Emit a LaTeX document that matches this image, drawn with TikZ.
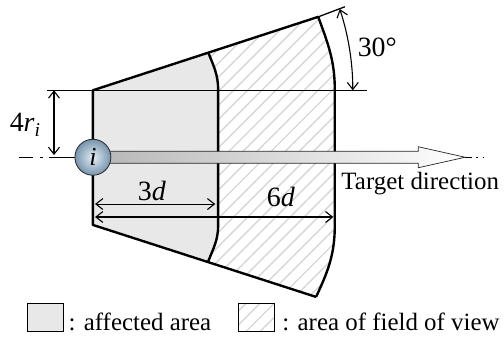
\documentclass[tikz,border=0pt]{standalone}
\usepackage{fontspec}
\setmainfont{Liberation Serif}
\usetikzlibrary{arrows.meta,patterns.meta}

\begin{document}
\begin{tikzpicture}[x=1in,y=1in,
  edge/.style={line width=2.4pt, line join=round},
  guide/.style={line width=1.3pt},
  dim/.style={line width=1.1pt, {Straight Barb[length=7pt,width=11pt]}-{Straight Barb[length=7pt,width=11pt]}},
  lbl/.style={font=\fontsize{28}{30}\selectfont, inner sep=0pt},
  txt/.style={font=\fontsize{25}{27}\selectfont, inner sep=0pt, anchor=base west},
  hatch/.style={pattern={Lines[angle=45,distance=10pt,line width=1.4pt]}, pattern color=black!16}]
\useasboundingbox (0,0) rectangle (7,4.694);
% corners of the two areas
\coordinate (tl) at (1.29,3.44);
\coordinate (bl) at (1.29,1.57);
\coordinate (it) at (2.89,3.97);
\coordinate (ib) at (2.89,1.06);
\coordinate (ot) at (4.42,4.46);
\coordinate (ob) at (4.39,0.57);
\coordinate (ext) at (4.79,4.60);
% areas
\fill[black!9] (tl) -- (it) to[out=-68,in=90] (3.03,3.44) -- (3.03,1.57) to[out=-90,in=68] (ib) -- (bl) -- cycle;
\fill[hatch] (it) -- (ot) to[out=-70,in=90] (4.65,3.44) -- (4.65,1.57) to[out=-90,in=65] (ob) -- (ib) to[out=68,in=-90] (3.03,1.57) -- (3.03,3.44) to[out=90,in=-68] (it);
\coordinate (hl) at (0.65,3.44);
\coordinate (hr) at (5.10,3.44);
\draw[guide] (hl) -- (hr);
\draw[guide] (ot) -- (ext);
\draw[edge] (ob) -- (bl) -- (tl) -- (ot);
\draw[edge] (it) to[out=-68,in=90] (3.03,3.44) -- (3.03,1.57) to[out=-90,in=68] (ib);
\draw[edge] (ot) to[out=-70,in=90] (4.65,3.44) -- (4.65,1.57) to[out=-90,in=65] (ob);
% target direction
\coordinate (c) at (1.29,2.51);
\coordinate (lft) at (0.26,2.51);
\coordinate (tip) at (6.46,2.51);
\coordinate (rgt) at (6.82,2.51);
\draw[line width=1.2pt, dash pattern=on 14pt off 7pt on 3pt off 6pt on 60pt] (lft) -- (c);
\shade[left color=black!28, right color=white, draw=black!85, line width=0.7pt] (1.40,2.427) -- (5.81,2.427) -- (5.81,2.364) -- (tip) -- (5.81,2.656) -- (5.81,2.593) -- (1.40,2.593) -- cycle;
\draw[line width=1.2pt, dash pattern=on 7pt off 4pt on 1.5pt off 5pt on 1.5pt off 30pt] (tip) -- (rgt);
\node[circle, draw=black!85, line width=0.8pt, shading=radial, inner color={rgb,255:red,228;green,238;blue,245}, outer color={rgb,255:red,118;green,148;blue,172}, minimum size=0.5in, inner sep=0pt, font=\fontsize{26}{28}\selectfont\itshape] (i) at (c) {i};
\node[txt] (tdir) at (4.74,2.06) {Target direction};
% dimensions
\coordinate (ra) at (0.75,3.44);
\coordinate (rb) at (0.75,2.54);
\draw[dim] (ra) -- (rb);
\node[lbl] (ri) at (0.35,2.96) {4\textit{r}\textsubscript{\textit{i}}};
\coordinate (da) at (1.32,1.86);
\coordinate (db) at (2.99,1.86);
\draw[dim] (da) -- (db);
\node[lbl] (d3) at (2.11,2.04) {3\textit{d}};
\coordinate (ea) at (1.32,1.68);
\coordinate (eb) at (4.63,1.68);
\draw[dim] (ea) -- (eb);
\node[lbl] (d6) at (3.90,1.96) {6\textit{d}};
\draw[dim] (4.90,3.44) arc[start angle=0, end angle=18.2, radius=3.61];
\node[lbl] (ang) at (5.24,4.03) {30°};
% legend
\node[draw, line width=0.8pt, fill=black!9, minimum width=0.5in, minimum height=0.4in] (akey) at (0.625,0.285) {};
\node[txt] (atxt) at (0.95,0.11) {: affected area};
\node[draw, line width=0.8pt, hatch, minimum width=0.5in, minimum height=0.4in] (vkey) at (3.56,0.285) {};
\node[txt] (vtxt) at (3.92,0.11) {: area of field of view};
\end{tikzpicture}
\end{document}
